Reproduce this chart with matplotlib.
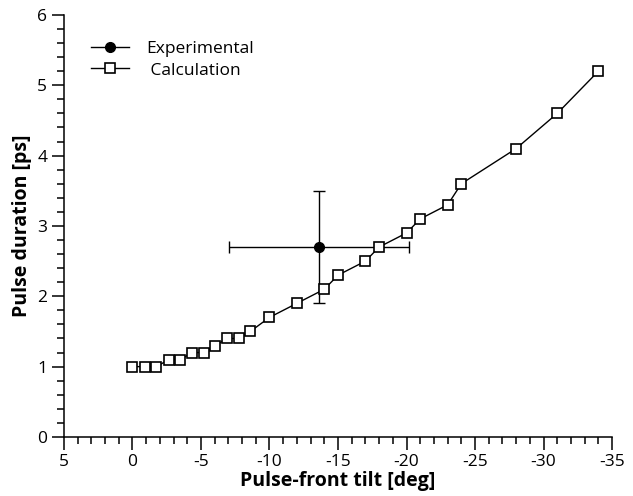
import matplotlib as mpl
import numpy as np
from matplotlib import pyplot as plt
from matplotlib import ticker
from matplotlib.lines import Line2D

mpl.rcParams["font.family"] = ["Open Sans", "DejaVu Sans"]

# Calculated pulse duration vs pulse-front tilt
calc_tilt = [0, -0.95, -1.75, -2.65, -3.5, -4.35, -5.2, -6.05, -6.9, -7.75, -8.6,
             -10.0, -12.0, -14.0, -15.0, -17.0, -18.0, -20.0, -21.0, -23.0, -24.0,
             -28.0, -31.0, -34.0]
calc_duration = [1.0, 1.0, 1.0, 1.1, 1.1, 1.2, 1.2, 1.3, 1.4, 1.4, 1.5,
                 1.7, 1.9, 2.1, 2.3, 2.5, 2.7, 2.9, 3.1, 3.3, 3.6,
                 4.1, 4.6, 5.2]

# Measured point with error bars
exp_tilt = [-13.6]
exp_duration = [2.7]
exp_tilt_err = [6.55]
exp_duration_err = [0.8]

fig = plt.figure(figsize=(6.33, 4.96), dpi=100)
ax = fig.add_axes([0.101, 0.119, 0.866, 0.851])

ax.errorbar(exp_tilt, exp_duration, xerr=exp_tilt_err, yerr=exp_duration_err,
            fmt="o", color="black", markersize=7, elinewidth=1.0, capsize=4,
            capthick=1.0, zorder=3)
ax.plot(calc_tilt, calc_duration, "-s", color="black", lw=1.0, markersize=7,
        markerfacecolor="white", markeredgewidth=1.2, zorder=4)

ax.set_xlim(5, -35)
ax.set_ylim(0, 6)
ax.xaxis.set_major_locator(ticker.MultipleLocator(5))
ax.xaxis.set_minor_locator(ticker.MultipleLocator(1))
ax.yaxis.set_major_locator(ticker.MultipleLocator(1))
ax.yaxis.set_minor_locator(ticker.MultipleLocator(0.2))
ax.tick_params(which="major", direction="out", length=9, width=1.1, labelsize=12.5, pad=3)
ax.tick_params(which="minor", direction="out", length=5, width=1.1)
ax.xaxis.set_major_formatter(ticker.FuncFormatter(lambda v, p: f"{v:g}"))

for side in ("top", "right"):
    ax.spines[side].set_visible(False)
for side in ("left", "bottom"):
    ax.spines[side].set_linewidth(1.1)

ax.set_xlabel("Pulse-front tilt [deg]", fontsize=14, fontweight="bold", labelpad=1)
ax.set_ylabel("Pulse duration [ps]", fontsize=14, fontweight="bold", labelpad=4)

# legend handles: plain line + marker, no error bars
handles = [
    Line2D([], [], color="black", lw=1.0, marker="o", markersize=7),
    Line2D([], [], color="black", lw=1.0, marker="s", markersize=7,
           markerfacecolor="white", markeredgewidth=1.2),
]
labels = ["Experimental", " Calculation"]
ax.legend(handles, labels, loc="upper left", bbox_to_anchor=(0.02, 0.975),
          frameon=False, fontsize=12.5, handlelength=2.2, handletextpad=1.0,
          labelspacing=0.3)

fig.savefig("out.png", dpi=100)
